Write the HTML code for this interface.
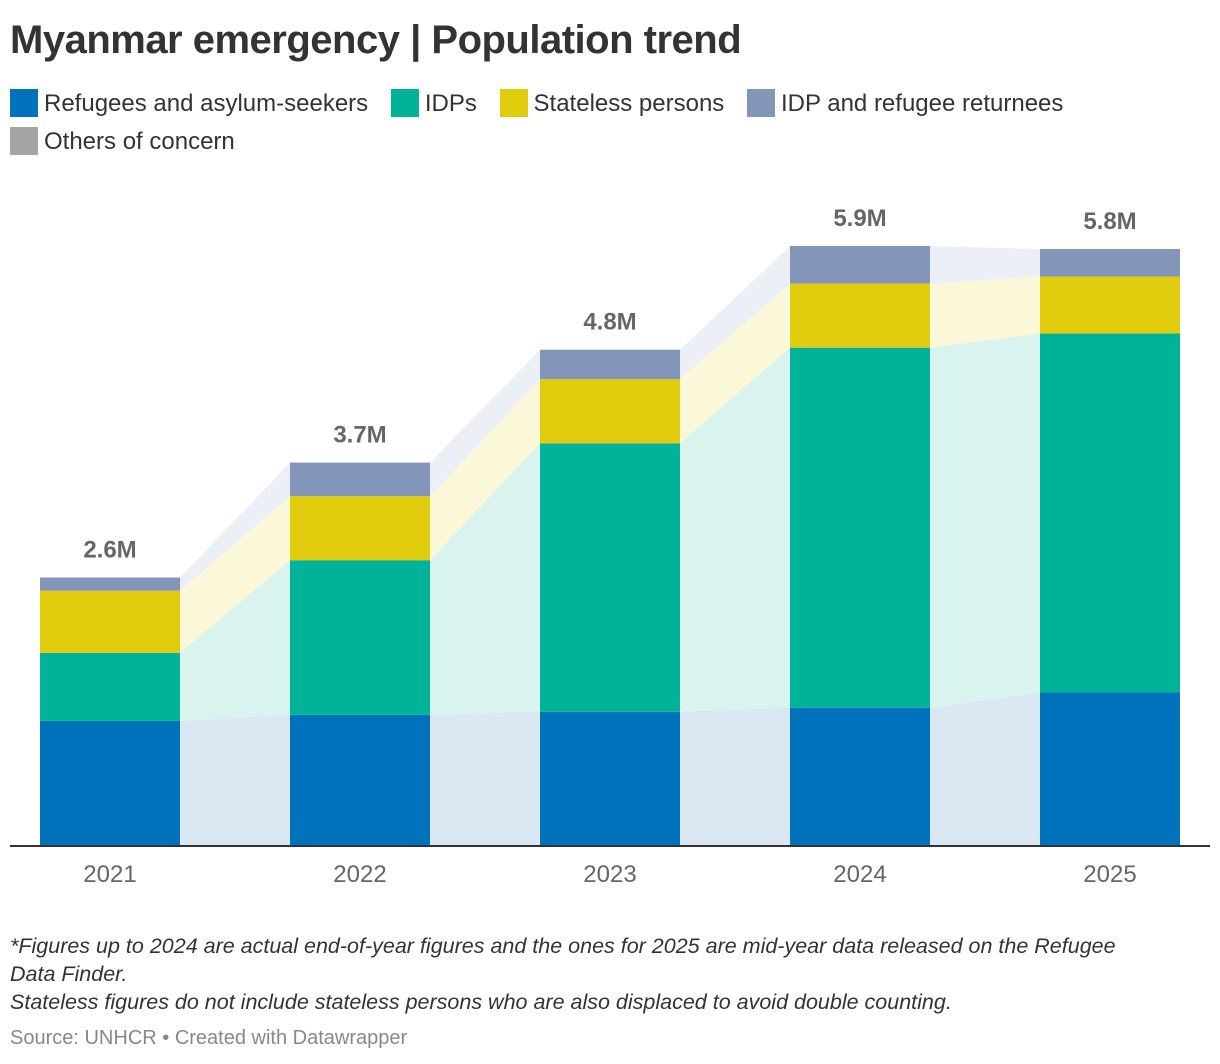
<!DOCTYPE html>
<html><head><meta charset="utf-8">
<style>
body{margin:0;background:#fff;width:1220px;height:1064px;overflow:hidden;font-family:"Liberation Sans",sans-serif;color:#333;}
h1{position:absolute;left:10px;top:18px;margin:0;font-size:40px;font-weight:bold;color:#333;letter-spacing:-0.5px}
.legend{position:absolute;left:10px;top:88px;width:1200px;font-size:24px;color:#333}
.li{display:inline-block;margin-right:16px;height:38px;line-height:32px}
.sw{display:inline-block;width:28px;height:28px;vertical-align:-6px;margin-right:6px}
.notes{position:absolute;left:10px;top:932px;font-size:21.5px;font-style:italic;color:#333;line-height:28px;width:1150px}
.src{position:absolute;left:10px;top:1027px;font-size:20px;color:#888}
</style></head><body>
<h1>Myanmar emergency | Population trend</h1>
<div class="legend">
<span class="li"><span class="sw" style="background:#0072bc"></span>Refugees and asylum-seekers</span>
<span class="li"><span class="sw" style="background:#00b398"></span>IDPs</span>
<span class="li"><span class="sw" style="background:#e1cc0d"></span>Stateless persons</span>
<span class="li"><span class="sw" style="background:#8395b9"></span>IDP and refugee returnees</span><br>
<span class="li"><span class="sw" style="background:#a5a5a5"></span>Others of concern</span>
</div>
<svg id="chart" width="1220" height="1064" style="position:absolute;left:0;top:0"></svg>
<div class="notes">*Figures up to 2024 are actual end-of-year figures and the ones for 2025 are mid-year data released on the Refugee Data Finder.<br>Stateless figures do not include stateless persons who are also displaced to avoid double counting.</div>
<div class="src">Source: UNHCR • Created with Datawrapper</div>
<script>
const years=["2021","2022","2023","2024","2025"];
const refugees=[1.23,1.29,1.32,1.36,1.51];
const idps=[0.67,1.52,2.64,3.54,3.53];
const stateless=[0.61,0.63,0.63,0.63,0.56];
const returnees=[0.13,0.33,0.29,0.37,0.27];
const totals=[2.6,3.7,4.8,5.9,5.8];
const series=[refugees,idps,stateless,returnees];
const colors=["#0072bc","#00b398","#e1cc0d","#8395b9"];
const fills=["#dae8f3","#d9f3ef","#fbf7d9","#eceff6"];
const names=["refugees","idps","stateless","returnees"];
const svg=document.getElementById('chart');
const NS="http://www.w3.org/2000/svg";
const base=846, pxPerM=101.7, barW=140;
const y=v=>base-v*pxPerM;
const x=i=>40+i*250;
function mk(t,a){const e=document.createElementNS(NS,t);for(const k in a)e.setAttribute(k,a[k]);svg.appendChild(e);return e;}
const cum=years.map((_,i)=>{let s=0;return series.map(se=>{const b=s;s+=se[i];return [b,s];});});
for(let i=0;i<years.length-1;i++){
  series.forEach((se,k)=>{
    const a=cum[i][k],b=cum[i+1][k];
    const p=mk('polygon',{points:`${x(i)+barW},${y(a[1])} ${x(i+1)},${y(b[1])} ${x(i+1)},${y(b[0])} ${x(i)+barW},${y(a[0])}`,fill:fills[k]});
    
    
  });
}
years.forEach((yr,i)=>{
  series.forEach((se,k)=>{
    const c=cum[i][k];
    const r=mk('rect',{x:x(i),y:y(c[1]),width:barW,height:y(c[0])-y(c[1]),fill:colors[k]});
    
    
  });
  const tot=cum[i][3][1];
  const t=mk('text',{x:x(i)+barW/2,y:y(tot)-20,'text-anchor':'middle','font-size':24,'font-weight':'bold',fill:'#666'});
  t.textContent=totals[i].toFixed(1)+'M';
  
  
  const l=mk('text',{x:x(i)+barW/2,y:882,'text-anchor':'middle','font-size':24,fill:'#666'});
  l.textContent=yr;
  
  
});
const ax=mk('line',{x1:10,x2:1210,y1:base,y2:base,stroke:'#333','stroke-width':2});


</script>
</body></html>
